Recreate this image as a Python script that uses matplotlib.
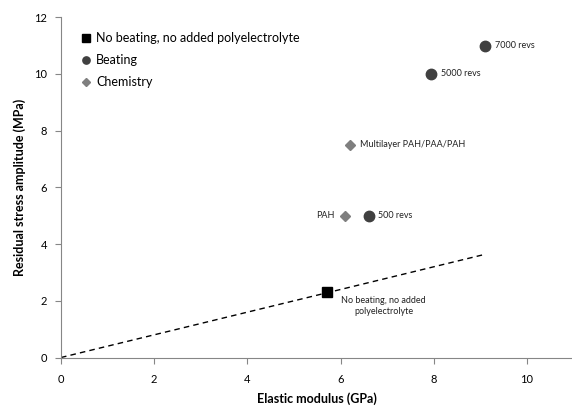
import numpy as np
import matplotlib.pyplot as plt

plt.rcParams['font.family'] = ['Lato', 'DejaVu Sans']

# data
ref_x = [5.7]
ref_y = [2.3]
beat_x = [6.6, 7.95, 9.1]
beat_y = [5.0, 10.0, 11.0]
beat_labels = ['500 revs', '5000 revs', '7000 revs']
chem_x = [6.1, 6.2]
chem_y = [5.0, 7.5]
chem_labels = ['PAH', 'Multilayer PAH/PAA/PAH']
trend_x = [0.0, 9.1]
trend_slope = 0.4

fig = plt.figure(figsize=(5.72, 4.12), dpi=100)
ax = fig.add_axes([61/572, 54.5/412, 511/572, 340.2/412])

tx = np.array(trend_x)
ax.plot(tx, trend_slope*tx, ls=(0, (4, 3)), color='black', lw=1.0, zorder=1)
ax.plot(ref_x, ref_y, 's', color='black', ms=7.5, ls='none',
        label='No beating, no added polyelectrolyte', zorder=3)
ax.plot(beat_x, beat_y, 'o', color='#404040', ms=7.5, ls='none',
        label='Beating', zorder=3)
ax.plot(chem_x, chem_y, 'D', color='#7f7f7f', ms=5.5, ls='none',
        label='Chemistry', zorder=3)

for x, y, t in zip(beat_x, beat_y, beat_labels):
    ax.annotate(t, (x, y), xytext=(7, 0), textcoords='offset points',
                fontsize=6.5, va='center', ha='left', color='#222222')
ax.annotate(chem_labels[0], (chem_x[0], chem_y[0]), xytext=(-8, 0),
            textcoords='offset points', fontsize=6.5, va='center', ha='right',
            color='#222222')
ax.annotate(chem_labels[1], (chem_x[1], chem_y[1]), xytext=(7, 0),
            textcoords='offset points', fontsize=6.5, va='center', ha='left',
            color='#222222')
ax.annotate('No beating, no added\npolyelectrolyte', (ref_x[0], ref_y[0]),
            xytext=(41, -2.5), textcoords='offset points', fontsize=6.5,
            va='top', ha='center', color='#222222', linespacing=1.3)

ax.set_xlim(0, 511/46.6)
ax.set_ylim(0, 12)
ax.set_xticks(range(0, 11, 2))
ax.set_yticks(range(0, 13, 2))
for s in ['top', 'right']:
    ax.spines[s].set_visible(False)
for s in ['left', 'bottom']:
    ax.spines[s].set_color('#868686')
    ax.spines[s].set_linewidth(0.8)
ax.tick_params(direction='out', length=4, width=0.8, color='#868686',
               labelsize=8, pad=6)
ax.tick_params(axis='x', pad=8)

ax.set_xlabel('Elastic modulus (GPa)', fontsize=9, fontweight='bold', labelpad=5)
ax.set_ylabel('Residual stress amplitude (MPa)', fontsize=9, fontweight='bold',
              labelpad=6)

ax.legend(loc='upper left', bbox_to_anchor=(0.02, 0.99), frameon=False,
          fontsize=9, handlelength=0.6, handletextpad=0.5, labelspacing=0.8,
          markerscale=0.7)

fig.savefig('out.png', dpi=100)
